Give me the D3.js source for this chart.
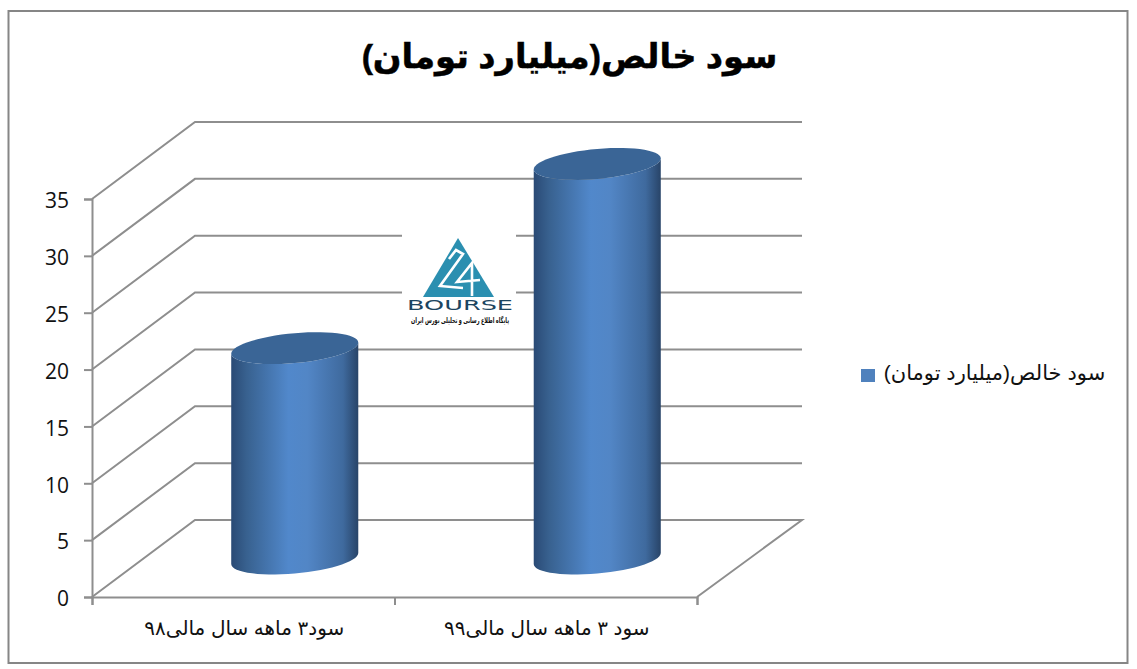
<!DOCTYPE html>
<html><head><meta charset="utf-8">
<script src="https://cdn.jsdelivr.net/npm/d3@7/dist/d3.min.js"></script>
<style>html,body{margin:0;padding:0;background:#fff}svg{display:block}</style>
</head><body><div id="c"></div>
<script>
const categories = ["سود۳ ماهه سال مالی۹۸", "سود ۳ ماهه سال مالی۹۹"];
const values = [18.5, 34.7];
const yTicks = [0, 5, 10, 15, 20, 25, 30, 35];
const titleText = "سود خالص(میلیارد تومان)";
const seriesName = "سود خالص(میلیارد تومان)";
const logoWord = "BOURSE";
const logoCaption = "پایگاه اطلاع رسانی و تحلیلی بورس ایران";

const W = 1137, H = 669;
const depthX = 103, depthY = -77, backRight = 802;
const font = "'Liberation Sans','DejaVu Sans',sans-serif";
const svg = d3.select("#c").append("svg").attr("width", W).attr("height", H);

const x = d3.scaleBand().domain(categories).range([92, 697]);
const y = d3.scaleLinear().domain([0, 35]).range([597, 199]);
const barWidth = x.bandwidth() * 0.42;
const gray = "#8e8e8e";

svg.append("rect").attr("x", 8.5).attr("y", 11).attr("width", 1119).attr("height", 652)
  .attr("fill", "#fff").attr("stroke", "#868686").attr("stroke-width", 2);

const defs = svg.append("defs");
const grad = defs.append("linearGradient").attr("id", "cyl");
[[0, "#2a4a75"], [0.12, "#38618f"], [0.45, "#5188cb"], [0.6, "#5286c6"], [0.88, "#3f6a9e"], [1, "#284468"]]
  .forEach(([o, c]) => grad.append("stop").attr("offset", o).attr("stop-color", c));

const grid = svg.append("g").attr("fill", "none").attr("stroke", gray).attr("stroke-width", 2);
yTicks.forEach(t => {
  const pts = [[x.range()[0], y(t)], [x.range()[0] + depthX, y(t) + depthY], [backRight, y(t) + depthY]];
  if (t === 0) pts.push([x.range()[1], y(t)]);
  grid.append("path").attr("d", d3.line()(pts));
});

const yAxis = d3.axisLeft(y).tickValues(yTicks).tickSize(8).tickPadding(15);
const gy = svg.append("g").attr("transform", "translate(92,0)").call(yAxis);
gy.selectAll("path,line").attr("stroke", gray).attr("stroke-width", 2);
gy.selectAll("text").attr("font-family", "'Open Sans',sans-serif").attr("font-size", 21).attr("fill", "#111").attr("y", 2);

const xEdges = d3.axisBottom(d3.scaleLinear().domain([0, 2]).range(x.range())).tickValues([0, 1, 2]).tickSize(8).tickFormat("");
const gx = svg.append("g").attr("transform", "translate(0,597)").call(xEdges);
gx.selectAll("path,line").attr("stroke", gray).attr("stroke-width", 2);

categories.forEach(c => {
  svg.append("text").attr("x", x(c) + x.bandwidth() / 2 + 1).attr("y", 635)
    .attr("text-anchor", "middle").attr("direction", "rtl")
    .attr("font-family", font).attr("font-size", 20).attr("fill", "#111").text(c);
});

const logo = svg.append("g");
logo.append("rect").attr("x", 402).attr("y", 222).attr("width", 114).attr("height", 109).attr("fill", "#fff");
logo.append("path").attr("d", "M458,238L494,297L423,297Z").attr("fill", "#2b8fb0");
logo.append("path").attr("d", "M449,259L456,250L463,254L440,286L463,288M472,296L472,263L457,282L480,280")
  .attr("fill", "none").attr("stroke", "#fff").attr("stroke-width", 2.6);
logo.append("text").attr("x", 460).attr("y", 310).attr("text-anchor", "middle")
  .attr("font-family", "'DejaVu Sans',sans-serif").attr("font-size", 13.5).attr("textLength", 106)
  .attr("lengthAdjust", "spacingAndGlyphs").attr("fill", "#1c4560").text(logoWord);
logo.append("text").attr("x", 460).attr("y", 323).attr("text-anchor", "middle").attr("direction", "rtl")
  .attr("font-family", font).attr("font-size", 8).attr("font-weight", "bold").attr("textLength", 98)
  .attr("lengthAdjust", "spacingAndGlyphs").attr("fill", "#111").text(logoCaption);

function ring(cx, cy, half) {
  const slant = -half * 0.087, minor = half * 0.236;
  return d3.range(0, 361, 6).map(a => {
    const t = a * Math.PI / 180;
    return [cx + half * Math.cos(t), cy + slant * Math.cos(t) - minor * Math.sin(t)];
  });
}
categories.forEach((c, i) => {
  const cx = x(c) + x.bandwidth() / 2 + depthX / 2;
  const half = barWidth / 2;
  const top = y(values[i]) + depthY / 2;
  const base = y(0) + depthY / 2;
  const slant = -half * 0.087, minor = half * 0.236;
  const low = d3.range(0, 181, 6).map(a => {
    const t = a * Math.PI / 180;
    return [cx + half * Math.cos(t), base + slant * Math.cos(t) + minor * Math.sin(t)];
  });
  const high = d3.range(180, -1, -6).map(a => {
    const t = a * Math.PI / 180;
    return [cx + half * Math.cos(t), top + slant * Math.cos(t) + minor * Math.sin(t)];
  });
  svg.append("path").attr("d", d3.line()(low.concat(high)) + "Z").attr("fill", "url(#cyl)");
  svg.append("path").attr("d", d3.line()(ring(cx, top, half)) + "Z").attr("fill", "#3a6596");
});

svg.append("text").attr("x", 569.5).attr("y", 68).attr("text-anchor", "middle").attr("direction", "rtl")
  .attr("font-family", font).attr("font-size", 33.7).attr("font-weight", "bold").attr("stroke", "#000").attr("stroke-width", 0.5).attr("fill", "#000").text(titleText);

svg.append("rect").attr("x", 861).attr("y", 369).attr("width", 14).attr("height", 13).attr("fill", "#4f81bd");
svg.append("text").attr("x", 994.5).attr("y", 380).attr("text-anchor", "middle").attr("direction", "rtl")
  .attr("font-family", font).attr("font-size", 21).attr("fill", "#111").text(seriesName);
</script></body></html>
